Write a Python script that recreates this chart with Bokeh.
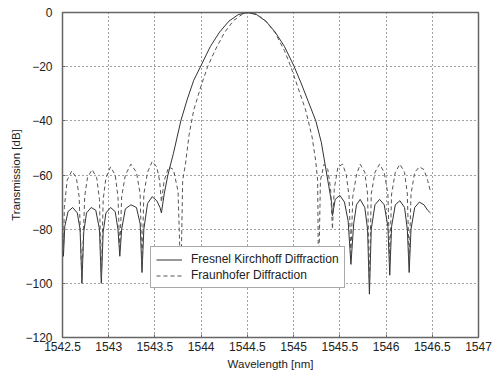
from bokeh.plotting import figure
from bokeh.models import FixedTicker, Legend, LegendItem
from bokeh.embed import file_html
from bokeh.resources import INLINE

# Fresnel-Kirchhoff diffraction (solid)
fk_wl = [1542.50, 1542.51, 1542.525, 1542.56, 1542.61, 1542.66, 1542.69, 1542.71, 1542.73, 1542.76,
         1542.81, 1542.86, 1542.90, 1542.92, 1542.94, 1542.97, 1543.02, 1543.07, 1543.10, 1543.12,
         1543.14, 1543.18, 1543.24, 1543.30, 1543.34, 1543.36, 1543.38, 1543.42, 1543.47, 1543.52,
         1543.555, 1543.57, 1543.60, 1543.64, 1543.70, 1543.78, 1543.85, 1543.92, 1544.00, 1544.10,
         1544.20, 1544.30, 1544.40, 1544.50, 1544.60, 1544.70, 1544.80, 1544.90, 1545.00, 1545.08,
         1545.16, 1545.24, 1545.30, 1545.34, 1545.38, 1545.41, 1545.42, 1545.45, 1545.50, 1545.55,
         1545.59, 1545.62, 1545.65, 1545.68, 1545.72, 1545.77, 1545.80, 1545.82, 1545.84, 1545.88,
         1545.93, 1545.98, 1546.02, 1546.04, 1546.06, 1546.10, 1546.15, 1546.20, 1546.23, 1546.25,
         1546.27, 1546.31, 1546.36, 1546.41, 1546.45, 1546.48]
fk_db = [-82, -90, -79, -73.5, -72, -74, -80, -100, -81, -74,
         -72, -73, -80, -100, -81, -74, -72, -73.5, -80, -90,
         -80, -72.5, -71, -72, -78, -96, -80, -70.5, -68, -69.5,
         -72, -74, -67, -60, -52, -40, -32, -25, -19.5, -12.5,
         -7.2, -3.2, -0.8, 0, -0.8, -3.2, -7.2, -12.5, -19.5, -26,
         -33, -40, -48, -56, -64, -70, -75, -69, -67.5, -70,
         -77, -93, -78, -71, -69, -72, -80, -104, -80, -71,
         -69, -71, -79, -97, -79, -71, -69.5, -72, -80, -96,
         -80, -72, -70, -71, -73, -74]

# Fraunhofer diffraction (dashed)
fr_wl = [1542.50, 1542.51, 1542.52, 1542.55, 1542.60, 1542.65, 1542.68, 1542.71, 1542.74, 1542.77,
         1542.82, 1542.87, 1542.90, 1542.92, 1542.94, 1542.97, 1543.02, 1543.07, 1543.10, 1543.12,
         1543.14, 1543.18, 1543.24, 1543.30, 1543.34, 1543.36, 1543.38, 1543.42, 1543.47, 1543.52,
         1543.55, 1543.57, 1543.60, 1543.65, 1543.70, 1543.75, 1543.78, 1543.80, 1543.83, 1543.87,
         1543.92, 1544.00, 1544.07, 1544.15, 1544.25, 1544.35, 1544.45, 1544.52, 1544.60, 1544.70,
         1544.80, 1544.90, 1544.97, 1545.05, 1545.13, 1545.20, 1545.24, 1545.26, 1545.27, 1545.29,
         1545.33, 1545.37, 1545.40, 1545.42, 1545.44, 1545.48, 1545.53, 1545.57, 1545.60, 1545.62,
         1545.64, 1545.68, 1545.72, 1545.77, 1545.80, 1545.82, 1545.84, 1545.88, 1545.93, 1545.98,
         1546.02, 1546.04, 1546.06, 1546.10, 1546.15, 1546.20, 1546.23, 1546.25, 1546.27, 1546.31,
         1546.36, 1546.41, 1546.45, 1546.48]
fr_db = [-75, -88, -72, -62, -58.5, -61, -68, -98, -68, -61,
         -58, -61, -69, -98, -69, -61, -57, -60, -68, -88,
         -68, -60, -56, -59, -67, -94, -67, -59, -55, -57,
         -62, -70, -62, -57, -58, -66, -100, -62, -56, -45,
         -36, -27, -20, -14, -7.5, -3, -0.5, 0, -0.6, -3.2,
         -7.5, -14, -20, -28, -36, -46, -55, -62, -100, -62,
         -56, -58, -65, -80, -65, -57, -56, -60, -68, -90,
         -68, -60, -56, -59, -67, -100, -67, -59, -56, -59,
         -67, -92, -67, -59, -56, -59, -67, -92, -67, -59,
         -57, -58, -62, -66]

x_ticks = [1542.5, 1543, 1543.5, 1544, 1544.5, 1545, 1545.5, 1546, 1546.5, 1547]
x_tick_labels = ["1542.5", "1543", "1543.5", "1544", "1544.5", "1545", "1545.5", "1546", "1546.5", "1547"]
y_ticks = [0, -20, -40, -60, -80, -100, -120]

FONT = "Liberation Sans"

p = figure(width=497, height=375, x_range=(1542.5, 1547), y_range=(-120, 0),
           output_backend="svg", toolbar_location=None,
           min_border_left=62, min_border_right=19, min_border_top=12, min_border_bottom=38)

r1 = p.line(fk_wl, fk_db, line_color="#333333", line_width=1)
r2 = p.line(fr_wl, fr_db, line_color="#555555", line_width=1, line_dash="4 3")

p.xaxis.ticker = FixedTicker(ticks=x_ticks)
p.xaxis.major_label_overrides = {t: l for t, l in zip(x_ticks, x_tick_labels)}
p.yaxis.ticker = FixedTicker(ticks=y_ticks)

for ax in (p.xaxis[0], p.yaxis[0]):
    ax.major_label_text_font = FONT
    ax.major_label_text_font_size = "12px"
    ax.major_label_text_color = "#222222"
    ax.axis_label_text_font = FONT
    ax.axis_label_text_font_size = "11.5px"
    ax.axis_label_text_font_style = "normal"
    ax.axis_label_text_color = "#222222"
    ax.axis_line_color = "#666666"
    ax.major_tick_line_color = "#666666"
    ax.major_tick_in = 3
    ax.major_tick_out = 0
    ax.minor_tick_line_color = None

p.xaxis.major_label_standoff = 4
p.xaxis.axis_label_standoff = 4
p.yaxis.major_label_standoff = 10
p.yaxis.axis_label_standoff = 0

p.xaxis.axis_label = "Wavelength [nm]"
p.yaxis.axis_label = "Transmission [dB]"

p.xgrid.ticker = FixedTicker(ticks=x_ticks)
p.ygrid.ticker = FixedTicker(ticks=y_ticks)
p.grid.grid_line_color = "#444444"
p.grid.grid_line_dash = "1 3"
p.grid.grid_line_width = 1

p.outline_line_color = "#666666"
p.outline_line_width = 1.5

legend = Legend(items=[LegendItem(label="Fresnel Kirchhoff Diffraction", renderers=[r1]),
                       LegendItem(label="Fraunhofer Diffraction", renderers=[r2])],
                location=(88, 49))
legend.label_text_font = FONT
legend.label_text_font_size = "12px"
legend.label_text_color = "#222222"
legend.glyph_width = 26
legend.glyph_height = 13
legend.label_height = 13
legend.spacing = 2
legend.padding = 5
legend.margin = 0
legend.label_standoff = 9
legend.border_line_color = "#555555"
legend.border_line_width = 1.5
legend.background_fill_alpha = 1
p.add_layout(legend, "center")

open("out.html", "w").write(file_html(p, INLINE))
